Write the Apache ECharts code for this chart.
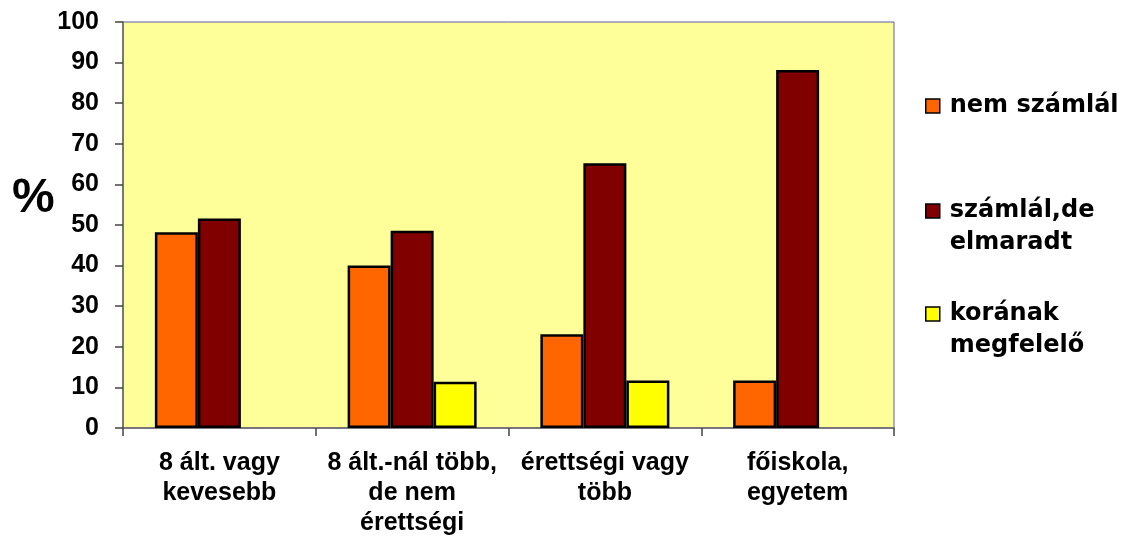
<!DOCTYPE html>
<html>
<head>
<meta charset="utf-8">
<script src="https://cdn.jsdelivr.net/npm/echarts@6/dist/echarts.min.js"></script>
<style>
html,body{margin:0;padding:0;background:#fff;}
#chart{width:1125px;height:536px;}
</style>
</head>
<body>
<div id="chart"></div>
<script>
const categories = ['8 ált. vagy\nkevesebb', '8 ált.-nál több,\nde nem\nérettségi', 'érettségi vagy\ntöbb', 'főiskola,\negyetem'];
const seriesNames = ['nem számlál', 'számlál,de\nelmaradt', 'korának\nmegfelelő'];
const nemSzamlal = [48.2, 40.0, 23.1, 11.7];
const szamlalDeElmaradt = [51.6, 48.6, 65.2, 88.2];
const koranakMegfelelo = [null, 11.4, 11.7, null];
const yTicks = { min: 0, max: 100, interval: 10 };
const colors = ['#FF6600', '#800000', '#FFFF00'];

const chart = echarts.init(document.getElementById('chart'));
const barStyle = (c) => ({ color: c, borderColor: '#000', borderWidth: 2.5 });
const legendText = { fontFamily: 'DejaVu Sans', fontWeight: 'bold', fontSize: 24, color: '#000', lineHeight: 32, padding: [0, 0, 0, 5] };

chart.setOption({
  animation: false,
  title: {
    text: '%', left: 12, top: 175, padding: 0,
    textStyle: { fontFamily: 'Arial, Liberation Sans', fontWeight: 'bold', fontSize: 48, color: '#000' }
  },
  grid: { left: 123, right: 231, top: 22, bottom: 108, outerBoundsMode: 'none', containLabel: false, show: true, backgroundColor: '#FFFF99', borderColor: '#5c5ca8', borderWidth: 1 },
  legend: [
    { data: [seriesNames[0]], orient: 'vertical', left: 925, top: 90, padding: 0, itemWidth: 14, itemHeight: 14, icon: 'rect', textStyle: legendText, itemStyle: { borderWidth: 1.5 } },
    { data: [seriesNames[1]], orient: 'vertical', left: 925, top: 195, padding: 0, itemWidth: 14, itemHeight: 46, icon: 'path://M0,0H14V14H0Z M0,46', textStyle: legendText, itemStyle: { borderWidth: 1.5 } },
    { data: [seriesNames[2]], orient: 'vertical', left: 925, top: 298, padding: 0, itemWidth: 14, itemHeight: 46, icon: 'path://M0,0H14V14H0Z M0,46', textStyle: legendText, itemStyle: { borderWidth: 1.5 } }
  ],
  xAxis: {
    type: 'category', data: categories,
    axisLine: { lineStyle: { color: '#666', width: 1.5 } },
    axisTick: { show: true, length: 8, lineStyle: { color: '#444', width: 1.5 } },
    axisLabel: { interval: 0, margin: 20, fontFamily: 'Arial, Liberation Sans', fontWeight: 'bold', fontSize: 25, color: '#000', lineHeight: 30 }
  },
  yAxis: {
    type: 'value', min: yTicks.min, max: yTicks.max, interval: yTicks.interval,
    splitLine: { show: false },
    axisLine: { show: true, lineStyle: { color: '#666', width: 1.5 } },
    axisTick: { show: true, length: 8, lineStyle: { color: '#444', width: 1.5 } },
    axisLabel: { margin: 24, fontFamily: 'Arial, Liberation Sans', fontWeight: 'bold', fontSize: 25, color: '#000' }
  },
  series: [
    { name: seriesNames[0], type: 'bar', data: nemSzamlal, barWidth: 43, barGap: '0%', itemStyle: barStyle(colors[0]) },
    { name: seriesNames[1], type: 'bar', data: szamlalDeElmaradt, barWidth: 43, barGap: '0%', itemStyle: barStyle(colors[1]) },
    { name: seriesNames[2], type: 'bar', data: koranakMegfelelo, barWidth: 43, barGap: '0%', itemStyle: barStyle(colors[2]) }
  ]
});
</script>
</body>
</html>
